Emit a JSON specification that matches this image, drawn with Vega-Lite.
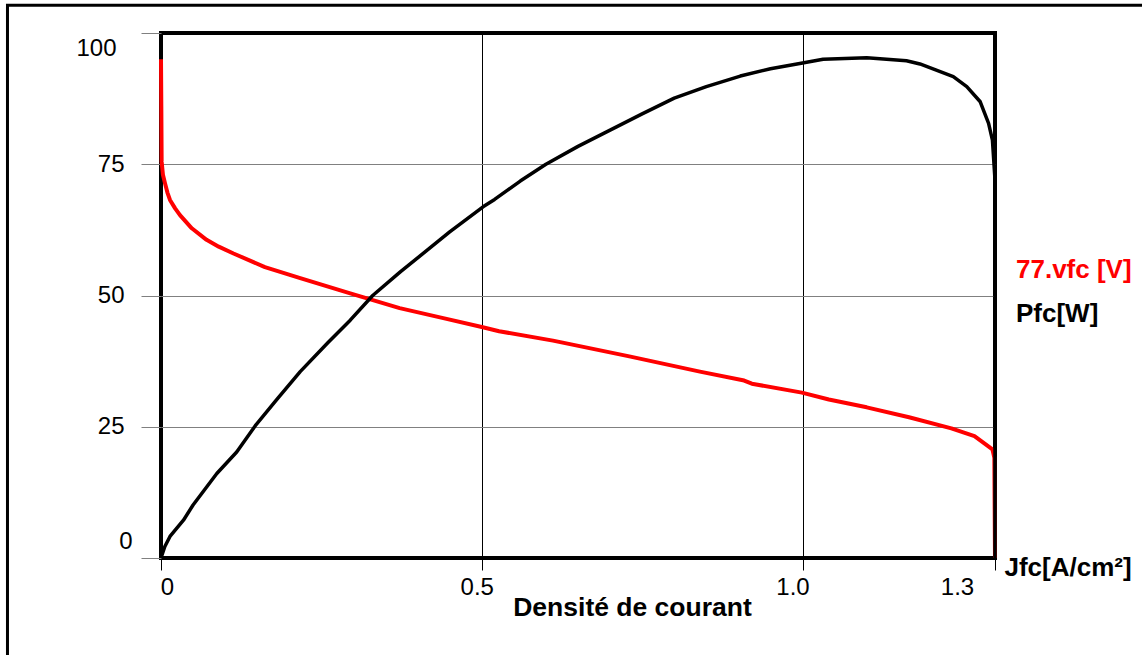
{
  "$schema": "https://vega.github.io/schema/vega-lite/v6.json",
  "autosize": "none",
  "padding": {"left": 161, "top": 33, "right": 147, "bottom": 97},
  "width": 834,
  "height": 525,
  "background": "white",
  "config": {"view": {"stroke": "#000000", "strokeWidth": 4}, "font": "Liberation Sans"},
  "layer": [
    {
      "data": {"values": [
        {"J": 0, "v": 95, "s": "77.vfc [V]", "i": 1},
        {"J": 0.0005, "v": 86, "s": "77.vfc [V]", "i": 2},
        {"J": 0.001, "v": 75.5, "s": "77.vfc [V]", "i": 3},
        {"J": 0.003, "v": 73, "s": "77.vfc [V]", "i": 4},
        {"J": 0.0062, "v": 71.4, "s": "77.vfc [V]", "i": 5},
        {"J": 0.01, "v": 69.6, "s": "77.vfc [V]", "i": 6},
        {"J": 0.014, "v": 68.2, "s": "77.vfc [V]", "i": 7},
        {"J": 0.022, "v": 66.6, "s": "77.vfc [V]", "i": 8},
        {"J": 0.0296, "v": 65.3, "s": "77.vfc [V]", "i": 9},
        {"J": 0.048, "v": 62.8, "s": "77.vfc [V]", "i": 10},
        {"J": 0.071, "v": 60.6, "s": "77.vfc [V]", "i": 11},
        {"J": 0.09, "v": 59.3, "s": "77.vfc [V]", "i": 12},
        {"J": 0.113, "v": 58, "s": "77.vfc [V]", "i": 13},
        {"J": 0.162, "v": 55.4, "s": "77.vfc [V]", "i": 14},
        {"J": 0.217, "v": 53.3, "s": "77.vfc [V]", "i": 15},
        {"J": 0.295, "v": 50.4, "s": "77.vfc [V]", "i": 16},
        {"J": 0.372, "v": 47.6, "s": "77.vfc [V]", "i": 17},
        {"J": 0.44, "v": 45.7, "s": "77.vfc [V]", "i": 18},
        {"J": 0.5, "v": 44, "s": "77.vfc [V]", "i": 19},
        {"J": 0.527, "v": 43.2, "s": "77.vfc [V]", "i": 20},
        {"J": 0.611, "v": 41.4, "s": "77.vfc [V]", "i": 21},
        {"J": 0.73, "v": 38.4, "s": "77.vfc [V]", "i": 22},
        {"J": 0.84, "v": 35.5, "s": "77.vfc [V]", "i": 23},
        {"J": 0.909, "v": 33.8, "s": "77.vfc [V]", "i": 24},
        {"J": 0.921, "v": 33.2, "s": "77.vfc [V]", "i": 25},
        {"J": 0.999, "v": 31.5, "s": "77.vfc [V]", "i": 26},
        {"J": 1.041, "v": 30.2, "s": "77.vfc [V]", "i": 27},
        {"J": 1.1, "v": 28.7, "s": "77.vfc [V]", "i": 28},
        {"J": 1.166, "v": 26.8, "s": "77.vfc [V]", "i": 29},
        {"J": 1.232, "v": 24.7, "s": "77.vfc [V]", "i": 30},
        {"J": 1.268, "v": 23.2, "s": "77.vfc [V]", "i": 31},
        {"J": 1.286, "v": 21.6, "s": "77.vfc [V]", "i": 32},
        {"J": 1.296, "v": 20.7, "s": "77.vfc [V]", "i": 33},
        {"J": 1.299, "v": 19.1, "s": "77.vfc [V]", "i": 34},
        {"J": 1.3, "v": 0, "s": "77.vfc [V]", "i": 35},
        {"J": 0, "v": 0, "s": "Pfc[W]", "i": 1},
        {"J": 0.006, "v": 2.2, "s": "Pfc[W]", "i": 2},
        {"J": 0.014, "v": 4.1, "s": "Pfc[W]", "i": 3},
        {"J": 0.035, "v": 7.2, "s": "Pfc[W]", "i": 4},
        {"J": 0.05, "v": 10.1, "s": "Pfc[W]", "i": 5},
        {"J": 0.087, "v": 16.1, "s": "Pfc[W]", "i": 6},
        {"J": 0.118, "v": 20.2, "s": "Pfc[W]", "i": 7},
        {"J": 0.147, "v": 25.2, "s": "Pfc[W]", "i": 8},
        {"J": 0.18, "v": 30.1, "s": "Pfc[W]", "i": 9},
        {"J": 0.217, "v": 35.5, "s": "Pfc[W]", "i": 10},
        {"J": 0.26, "v": 41, "s": "Pfc[W]", "i": 11},
        {"J": 0.295, "v": 45.3, "s": "Pfc[W]", "i": 12},
        {"J": 0.33, "v": 50, "s": "Pfc[W]", "i": 13},
        {"J": 0.373, "v": 54.5, "s": "Pfc[W]", "i": 14},
        {"J": 0.45, "v": 62.1, "s": "Pfc[W]", "i": 15},
        {"J": 0.502, "v": 66.9, "s": "Pfc[W]", "i": 16},
        {"J": 0.52, "v": 68.3, "s": "Pfc[W]", "i": 17},
        {"J": 0.56, "v": 71.8, "s": "Pfc[W]", "i": 18},
        {"J": 0.6, "v": 75, "s": "Pfc[W]", "i": 19},
        {"J": 0.65, "v": 78.4, "s": "Pfc[W]", "i": 20},
        {"J": 0.7, "v": 81.5, "s": "Pfc[W]", "i": 21},
        {"J": 0.75, "v": 84.6, "s": "Pfc[W]", "i": 22},
        {"J": 0.8, "v": 87.6, "s": "Pfc[W]", "i": 23},
        {"J": 0.85, "v": 89.8, "s": "Pfc[W]", "i": 24},
        {"J": 0.903, "v": 91.8, "s": "Pfc[W]", "i": 25},
        {"J": 0.95, "v": 93.2, "s": "Pfc[W]", "i": 26},
        {"J": 1.0, "v": 94.3, "s": "Pfc[W]", "i": 27},
        {"J": 1.032, "v": 95, "s": "Pfc[W]", "i": 28},
        {"J": 1.1, "v": 95.3, "s": "Pfc[W]", "i": 29},
        {"J": 1.162, "v": 94.7, "s": "Pfc[W]", "i": 30},
        {"J": 1.183, "v": 94.1, "s": "Pfc[W]", "i": 31},
        {"J": 1.235, "v": 91.7, "s": "Pfc[W]", "i": 32},
        {"J": 1.256, "v": 89.8, "s": "Pfc[W]", "i": 33},
        {"J": 1.277, "v": 86.9, "s": "Pfc[W]", "i": 34},
        {"J": 1.29, "v": 82.8, "s": "Pfc[W]", "i": 35},
        {"J": 1.296, "v": 79.6, "s": "Pfc[W]", "i": 36},
        {"J": 1.3, "v": 72, "s": "Pfc[W]", "i": 37},
        {"J": 1.3, "v": 0, "s": "Pfc[W]", "i": 38}
      ]},
      "mark": {"type": "line", "strokeJoin": "round", "strokeCap": "butt"},
      "encoding": {
        "x": {
          "field": "J", "type": "quantitative",
          "scale": {"domain": [0, 1.3], "nice": false, "zero": false},
          "axis": {
            "values": [0, 0.5, 1.0, 1.3],
            "labelExpr": "datum.value === 0 ? '0' : format(datum.value, '.1f')",
            "labelFlush": false,
            "labelFont": "Liberation Sans", "labelFontSize": 24, "labelColor": "#000000",
            "labelPadding": 5,
            "labelOffset": {"condition": [{"test": "datum.value === 0", "value": 6}, {"test": "datum.value === 1.3", "value": -38}, {"test": "datum.value === 1", "value": -10}], "value": -5},
            "domain": false,
            "ticks": true, "tickSize": 12, "tickColor": "#000000", "tickWidth": 1,
            "grid": true, "gridColor": "#000000", "gridWidth": 1,
            "gridOpacity": {"condition": {"test": "datum.value === 0 || datum.value === 1.3", "value": 0}, "value": 1},
            "title": "Jfc[A/cm²]",
            "titleX": 843, "titleY": 9, "titleAlign": "left", "titleBaseline": "middle", "titleAnchor": null,
            "titleFont": "Liberation Sans", "titleFontSize": 26, "titleFontWeight": "bold", "titleColor": "#000000"
          }
        },
        "y": {
          "field": "v", "type": "quantitative",
          "scale": {"domain": [0, 100], "nice": false},
          "axis": {
            "values": [0, 25, 50, 75, 100],
            "labelFlush": false,
            "labelFont": "Liberation Sans", "labelFontSize": 24, "labelColor": "#000000",
            "labelPadding": {"condition": [{"test": "datum.value === 0", "value": 9}, {"test": "datum.value === 100", "value": 25}], "value": 17},
            "labelOffset": {"condition": [{"test": "datum.value === 0", "value": -17}, {"test": "datum.value === 100", "value": 15}], "value": 0},
            "domain": false,
            "ticks": true, "tickSize": 20, "tickColor": "#808080", "tickWidth": 1,
            "grid": true, "gridColor": "#808080", "gridWidth": 1,
            "gridOpacity": {"condition": {"test": "datum.value === 0 || datum.value === 100", "value": 0}, "value": 1},
            "title": "Densité de courant",
            "titleAngle": 0, "titleX": 471, "titleY": 582, "titleAlign": "center", "titleBaseline": "alphabetic", "titleAnchor": null,
            "titleFont": "Liberation Sans", "titleFontSize": 26.5, "titleFontWeight": "bold", "titleColor": "#000000"
          }
        },
        "color": {
          "field": "s", "type": "nominal",
          "scale": {"domain": ["77.vfc [V]", "Pfc[W]"], "range": ["#ff0000", "#000000"]},
          "legend": {
            "orient": "none", "legendX": 829, "legendY": 224, "title": null,
            "labelFont": "Liberation Sans", "labelFontSize": 26, "labelFontWeight": "bold", "labelLimit": 400,
            "symbolSize": 0, "symbolOpacity": 0, "symbolStrokeWidth": 0, "labelOffset": 0, "padding": 0, "rowPadding": 18,
            "encode": {"labels": {"update": {"fill": {"signal": "datum.value === '77.vfc [V]' ? '#ff0000' : '#000000'"}}}}
          }
        },
        "strokeWidth": {
          "field": "s", "type": "nominal",
          "scale": {"domain": ["77.vfc [V]", "Pfc[W]"], "range": [4, 3.5]},
          "legend": null
        },
        "order": {"field": "i", "type": "quantitative"}
      }
    },
    {
      "data": {"values": [{}]},
      "mark": {"type": "rect", "fill": null, "stroke": "#000000", "strokeWidth": 3, "clip": false},
      "encoding": {
        "x": {"datum": -0.2393, "type": "quantitative"},
        "x2": {"datum": 1.56},
        "y": {"datum": 105.3, "type": "quantitative"},
        "y2": {"datum": -21}
      }
    }
  ]
}
